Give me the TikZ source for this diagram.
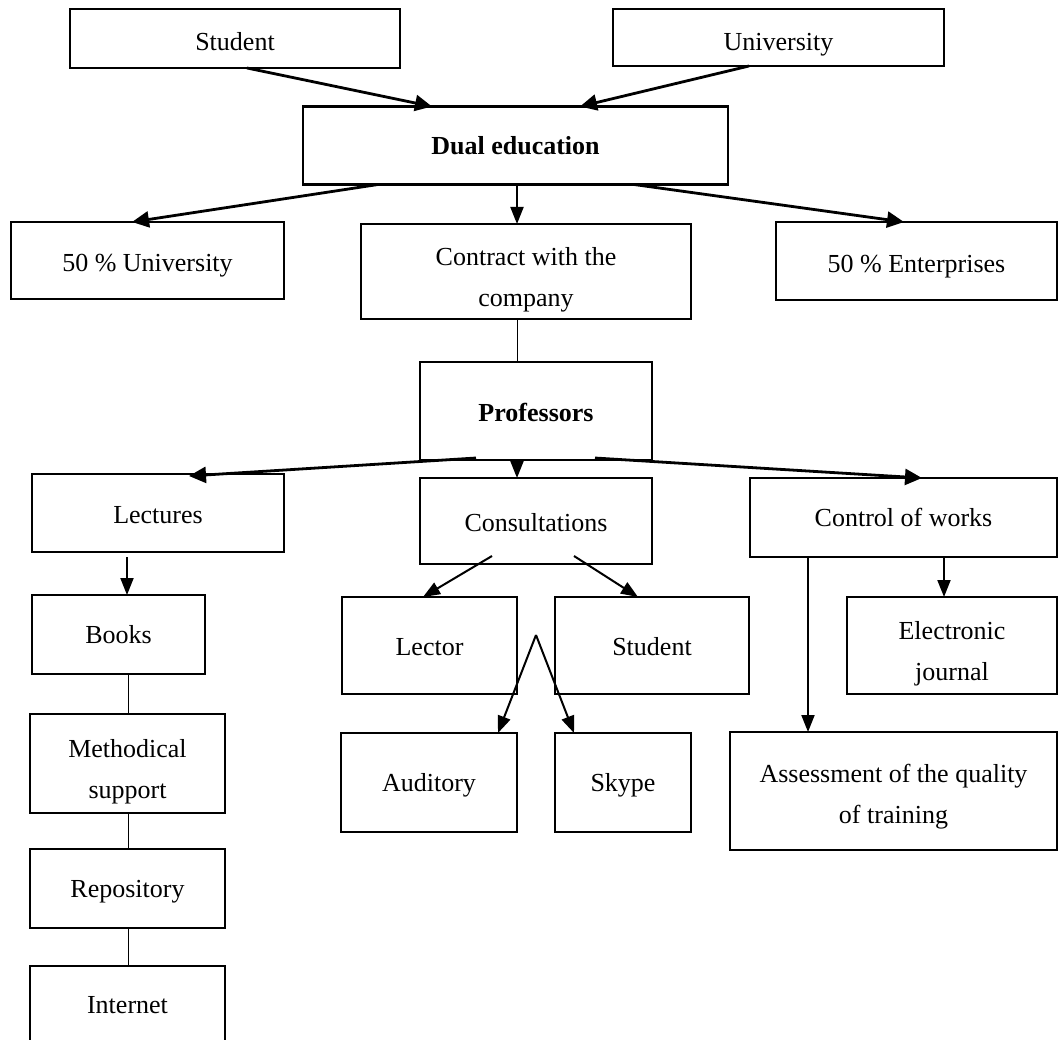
\documentclass[tikz,border=0pt]{standalone}
\usepackage{fontspec}
\setmainfont{Liberation Serif}
\usetikzlibrary{arrows.meta}
\newcommand\boxtext[2][-4pt]{\raisebox{#1}[\height][\depth]{\begin{tabular}{@{}c@{}}#2\end{tabular}}}
\tikzset{
  box/.style={draw, line width=2.6pt, inner sep=0pt, outer sep=0pt, align=center,
    font=\fontsize{26}{41}\selectfont},
  thickarr/.style={line width=2.8pt, -{Triangle[length=17pt,width=16pt]}},
  thinarr/.style={line width=2pt, -{Triangle[length=17pt,width=13pt]}},
  thinline/.style={line width=1pt},
}
\begin{document}
\begin{tikzpicture}[x=1pt,y=-1pt]
\useasboundingbox (0,0) rectangle (1059,1040);
\clip (0,0) rectangle (1059,1040);
% boxes
\node[box, minimum width=330pt, minimum height=59pt] (stud) at (235,38.5) {\boxtext{Student}};
\node[box, minimum width=331pt, minimum height=57pt] (univ) at (778.5,37.5) {\boxtext[-5pt]{University}};
\node[box, minimum width=425pt, minimum height=78pt] (dual) at (515.5,145.5) {\boxtext[-1pt]{\bfseries Dual education}};
\node[box, minimum width=273pt, minimum height=77pt] (u50) at (147.5,260.5) {\boxtext[-3pt]{50 \% University}};
\node[box, minimum width=330pt, minimum height=95pt] (contract) at (526,271.5) {\boxtext[-6pt]{Contract with the\\company}};
\node[box, minimum width=281pt, minimum height=78pt] (ent50) at (916.5,261) {\boxtext[-3pt]{50 \% Enterprises}};
\node[box, minimum width=232pt, minimum height=98pt] (prof) at (536,411) {\boxtext[-2pt]{\bfseries Professors}};
\node[box, minimum width=252pt, minimum height=78pt] (lect) at (158,513) {\boxtext[-2pt]{Lectures}};
\node[box, minimum width=232pt, minimum height=86pt] (consult) at (536,521) {\boxtext[-2pt]{Consultations}};
\node[box, minimum width=307pt, minimum height=79pt] (control) at (903.5,517.5) {\boxtext[-1pt]{Control of works}};
\node[box, minimum width=173pt, minimum height=79pt] (books) at (118.5,634.5) {\boxtext[-1pt]{Books}};
\node[box, minimum width=175pt, minimum height=97pt] (lector) at (429.5,645.5) {\boxtext[-2pt]{Lector}};
\node[box, minimum width=194pt, minimum height=97pt] (stud2) at (652,645.5) {\boxtext[-2pt]{Student}};
\node[box, minimum width=210pt, minimum height=97pt] (ejournal) at (952,645.5) {\boxtext[-6pt]{Electronic\\journal}};
\node[box, minimum width=195pt, minimum height=99pt] (method) at (127.5,763.5) {\boxtext[-6pt]{Methodical\\support}};
\node[box, minimum width=176pt, minimum height=99pt] (audit) at (429,782.5) {\boxtext[-1pt]{Auditory}};
\node[box, minimum width=136pt, minimum height=99pt] (skype) at (623,782.5) {\boxtext[-1pt]{Skype}};
\node[box, minimum width=327pt, minimum height=118pt] (assess) at (893.5,791) {\boxtext[-4pt]{Assessment of the quality\\of training}};
\node[box, minimum width=195pt, minimum height=79pt] (repo) at (127.5,888.5) {\boxtext[-1pt]{Repository}};
\node[box, minimum width=195pt, minimum height=100pt] (internet) at (127.5,1016) {};
\node[font=\fontsize{26}{41}\selectfont, inner sep=0pt] (internettext) at (127.5,1005) {Internet};
\coordinate (apex) at (536,635);
% connectors
\draw[thickarr] ([xshift=12pt]stud.south) -- ([xshift=-83.5pt]dual.north);
\draw[thickarr] ([xshift=-29.5pt]univ.south) -- ([xshift=64.5pt]dual.north);
\draw[thickarr] ([xshift=-137.5pt]dual.south) -- ([xshift=-15.5pt]u50.north);
\draw[thinarr] ([xshift=1.5pt]dual.south) -- ([xshift=-9pt]contract.north);
\draw[thickarr] ([xshift=118.5pt]dual.south) -- ([xshift=-12.5pt]ent50.north);
\draw[thinline] ([xshift=-9pt]contract.south) -- ([xshift=-19pt]prof.north);
\draw[thickarr] ([xshift=-60pt,yshift=2pt]prof.south) -- ([xshift=31pt,yshift=-2pt]lect.north);
\draw[thinarr] ([xshift=-19pt]prof.south) -- ([xshift=-19pt]consult.north);
\draw[thickarr] ([xshift=59pt,yshift=2pt]prof.south) -- ([xshift=18.5pt]control.north);
\draw[thinarr] ([xshift=-31pt,yshift=-5pt]lect.south) -- ([xshift=8.5pt]books.north);
\draw[thinline] ([xshift=9.5pt]books.south) -- ([xshift=0.5pt]method.north);
\draw[thinline] ([xshift=0.5pt]method.south) -- ([xshift=0.5pt]repo.north);
\draw[thinline] ([xshift=0.5pt]repo.south) -- ([xshift=0.5pt]internet.north);
\draw[thinarr] ([xshift=-44pt,yshift=8pt]consult.south) -- ([xshift=-6.5pt]lector.north);
\draw[thinarr] ([xshift=38pt,yshift=8pt]consult.south) -- ([xshift=-14pt]stud2.north);
\draw[thinarr] (apex) -- ([xshift=69pt]audit.north);
\draw[thinarr] (apex) -- ([xshift=-49pt]skype.north);
\draw[thinarr] ([xshift=40.5pt]control.south) -- ([xshift=-8pt]ejournal.north);
\draw[thinarr] ([xshift=-95.5pt]control.south) -- ([xshift=-85.5pt]assess.north);
\end{tikzpicture}
\end{document}
